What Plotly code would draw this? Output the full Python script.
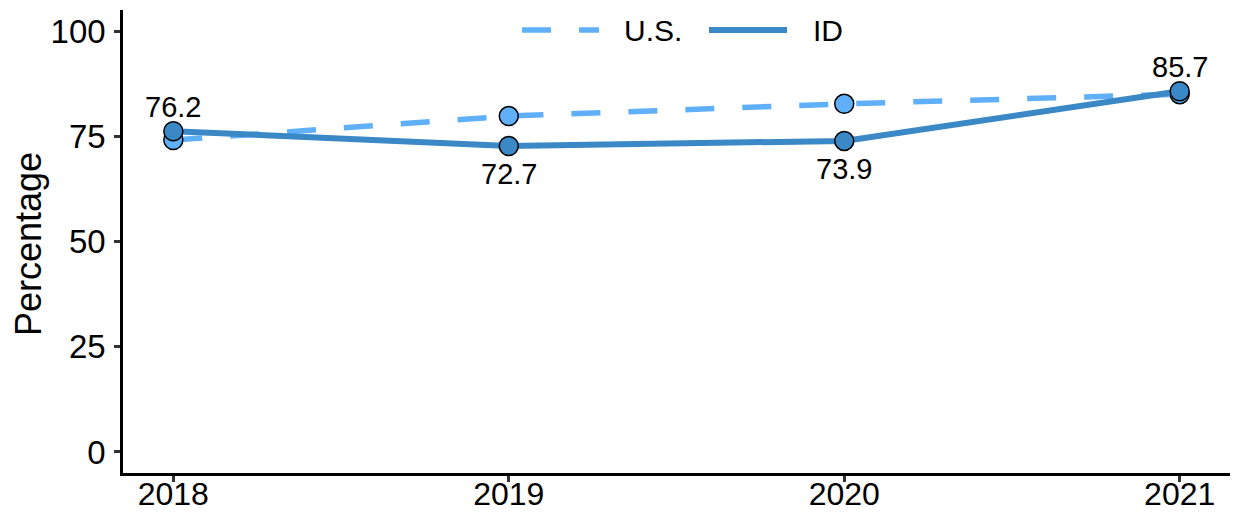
import plotly.graph_objects as go

years = [2018, 2019, 2020, 2021]
us_values = [74.1, 79.8, 82.7, 85.0]
id_values = [76.2, 72.7, 73.9, 85.7]
id_labels = ["76.2", "72.7", "73.9", "85.7"]
y_ticks = [0, 25, 50, 75, 100]

US_COLOR = "#5FB0F9"
ID_COLOR = "#3A88C5"
FONT = "Liberation Sans, Arial, sans-serif"

W, H = 1236, 515
L, R, T, B = 123, 6, 10, 42
PW, PH = W - L - R, H - T - B

fig = go.Figure()
fig.add_trace(go.Scatter(
    x=years, y=us_values, mode="lines+markers", name="U.S.",
    line=dict(color=US_COLOR, width=5.5, dash="29px,28px"),
    marker=dict(size=19, color=US_COLOR, line=dict(color="black", width=1.5)),
    showlegend=False,
))
fig.add_trace(go.Scatter(
    x=years, y=id_values, mode="lines+markers", name="ID",
    line=dict(color=ID_COLOR, width=6),
    marker=dict(size=19, color=ID_COLOR, line=dict(color="black", width=1.5)),
    showlegend=False,
))

annotations = []
for x, y, lab, u in zip(years, id_values, id_labels, us_values):
    above = y >= u
    annotations.append(dict(
        x=x, y=y, text=lab, showarrow=False, xref="x", yref="y",
        yanchor="middle", yshift=24 if above else -28,
        font=dict(family=FONT, size=29, color="black"),
    ))


def px(xp):
    return (xp - L) / PW


def py(yp):
    return (H - B - yp) / PH


shapes = []
ly = py(30)
# U.S. dashed legend key
shapes.append(dict(type="line", xref="paper", yref="paper", x0=px(522), x1=px(551), y0=ly, y1=ly,
                   line=dict(color=US_COLOR, width=5.5)))
shapes.append(dict(type="line", xref="paper", yref="paper", x0=px(579), x1=px(599), y0=ly, y1=ly,
                   line=dict(color=US_COLOR, width=5.5)))
# ID legend key
shapes.append(dict(type="line", xref="paper", yref="paper", x0=px(709), x1=px(787), y0=ly, y1=ly,
                   line=dict(color=ID_COLOR, width=6)))
annotations.append(dict(x=px(622), y=ly, xref="paper", yref="paper", text="U.S.", showarrow=False,
                        xanchor="left", yanchor="middle", font=dict(family=FONT, size=30, color="black")))
annotations.append(dict(x=px(811), y=ly, xref="paper", yref="paper", text="ID", showarrow=False,
                        xanchor="left", yanchor="middle", font=dict(family=FONT, size=30, color="black")))
# y axis title
annotations.append(dict(x=px(28), y=py(244), xref="paper", yref="paper", text="Percentage",
                        showarrow=False, textangle=-90, xanchor="center", yanchor="middle",
                        font=dict(family=FONT, size=36, color="black")))

fig.update_layout(
    width=W, height=H,
    margin=dict(l=L, r=R, t=T, b=B, pad=0, autoexpand=False),
    paper_bgcolor="white", plot_bgcolor="white",
    font=dict(family=FONT, size=33, color="black"),
    annotations=annotations, shapes=shapes,
    showlegend=False,
)
fig.update_xaxes(
    range=[2017.85, 2021.15], tickvals=years, ticktext=[str(y) for y in years],
    showline=True, linecolor="black", linewidth=2.5, showgrid=False, zeroline=False,
    ticks="outside", ticklen=6, tickwidth=2.5, tickcolor="#333333",
    tickfont=dict(family=FONT, size=32, color="black"), automargin=False,
    ticklabelstandoff=-15,
)
fig.update_yaxes(
    range=[-5, 105], tickvals=y_ticks,
    showline=True, linecolor="black", linewidth=2.5, showgrid=False, zeroline=False,
    ticks="outside", ticklen=6, tickwidth=2.5, tickcolor="#333333",
    tickfont=dict(family=FONT, size=33, color="black"), automargin=False,
    ticklabelstandoff=2,
)

fig.write_html(
    "out.html",
    config={"displayModeBar": False},
    post_script="document.body.style.margin='0';document.body.style.overflow='hidden';",
)
